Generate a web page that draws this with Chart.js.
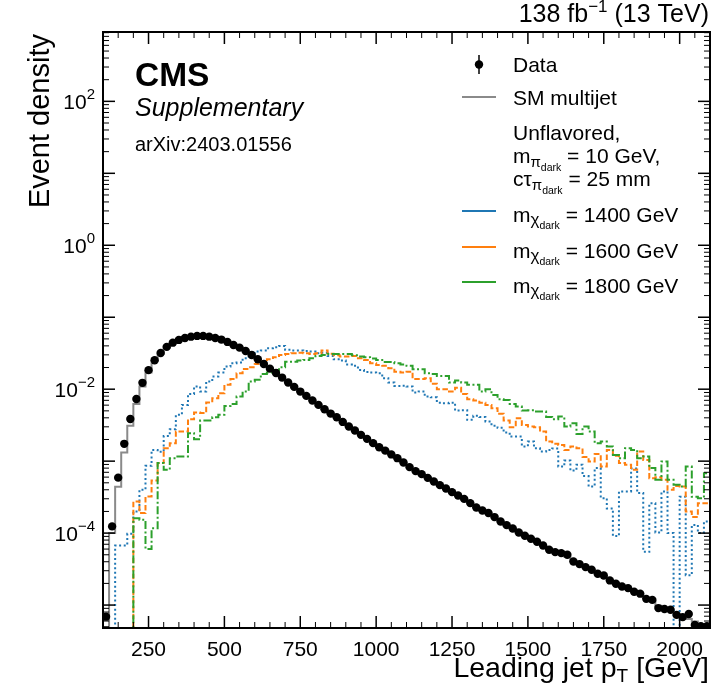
<!DOCTYPE html>
<html>
<head>
<meta charset="utf-8">
<script src="https://cdn.jsdelivr.net/npm/chart.js@4.4.1/dist/chart.umd.min.js"></script>
<style>
  html, body { margin: 0; padding: 0; background: #fff; }
  #wrap { width: 715px; height: 687px; }
</style>
</head>
<body>
<div id="wrap"><canvas id="c" width="715" height="687"></canvas></div>
<script>
// leading jet pT, 20 GeV bins from 100 to 2100 GeV
const binLo = 100, binW = 20, nBins = 100;
const binEdges = Array.from({ length: nBins + 1 }, (_, i) => binLo + binW * i);

// Data (black points, normalised)
const dataVals = [
  6.9e-6, 1.24e-4, 5.9e-4, 1.74e-3, 3.86e-3, 7.3e-3, 0.01225, 0.0184, 0.0253, 0.0319,
  0.0387, 0.0443, 0.0484, 0.0515, 0.0537, 0.055, 0.055, 0.0537, 0.0515, 0.0489,
  0.0454, 0.0412, 0.0378, 0.034, 0.0299, 0.0261, 0.0224, 0.0193, 0.0168, 0.0145,
  0.0124, 0.01076, 0.00926, 0.00807, 0.00695, 0.00605, 0.00527, 0.00458, 0.00408, 0.00351,
  0.00303, 0.00266, 0.00232, 0.00204, 0.00178, 0.00156, 0.0014, 0.00124, 0.0011, 9.57e-4,
  8.26e-4, 7.27e-4, 6.6e-4, 5.86e-4, 5.21e-4, 4.64e-4, 4.16e-4, 3.71e-4, 3.33e-4, 2.99e-4,
  2.61e-4, 2.27e-4, 2.06e-4, 1.9e-4, 1.67e-4, 1.45e-4, 1.29e-4, 1.16e-4, 1.02e-4, 9.17e-5,
  8.33e-5, 7.57e-5, 6.73e-5, 5.86e-5, 5.44e-5, 5.27e-5, 5.0e-5, 4.04e-5, 3.71e-5, 3.37e-5,
  3.09e-5, 2.72e-5, 2.58e-5, 2.2e-5, 1.98e-5, 1.81e-5, 1.72e-5, 1.53e-5, 1.44e-5, 1.22e-5,
  1.18e-5, 9.08e-6, 8.8e-6, 8.6e-6, 7.3e-6, 6.8e-6, 7.5e-6, 5.3e-6, 5.1e-6, 5.1e-6
];

// SM multijet (grey step)
const qcdVals = [
  3.0e-6, 1.0e-4, 4.4e-4, 1.32e-3, 3.1e-3, 6.25e-3, 0.0109, 0.017, 0.0245, 0.0312,
  0.0384, 0.0441, 0.0483, 0.0515, 0.0537, 0.055, 0.055, 0.0537, 0.0515, 0.0489,
  0.0454, 0.0412, 0.0378, 0.034, 0.0299, 0.0261, 0.0224, 0.0193, 0.0168, 0.0145,
  0.0124, 0.01076, 0.00926, 0.00807, 0.00695, 0.00605, 0.00527, 0.00458, 0.00408, 0.00351,
  0.00303, 0.00266, 0.00232, 0.00204, 0.00178, 0.00156, 0.0014, 0.00124, 0.0011, 9.57e-4,
  8.26e-4, 7.27e-4, 6.6e-4, 5.86e-4, 5.21e-4, 4.64e-4, 4.16e-4, 3.71e-4, 3.33e-4, 2.99e-4,
  2.61e-4, 2.27e-4, 2.06e-4, 1.9e-4, 1.67e-4, 1.45e-4, 1.29e-4, 1.16e-4, 1.02e-4, 9.17e-5,
  8.33e-5, 7.57e-5, 6.73e-5, 6.0e-5, 5.6e-5, 5.15e-5, 4.7e-5, 4.1e-5, 3.7e-5, 3.37e-5,
  3.09e-5, 2.76e-5, 2.52e-5, 2.23e-5, 2.0e-5, 1.83e-5, 1.7e-5, 1.54e-5, 1.42e-5, 1.25e-5,
  1.12e-5, 9.8e-6, 9.0e-6, 8.3e-6, 7.6e-6, 7.0e-6, 6.4e-6, 5.9e-6, 5.4e-6, 5.1e-6
];

// signals, unflavored, m_pi = 10 GeV, ctau = 25 mm
const sig1400 = [
  0, 0, 6.7e-5, 6.7e-5, 9.8e-5, 2.0e-4, 4.0e-4, 8.6e-4, 1.43e-3, 1.35e-3,
  2.24e-3, 2.78e-3, 4.4e-3, 6.05e-3, 8.6e-3, 0.0109, 0.0093, 0.0128, 0.015, 0.017,
  0.0206, 0.023, 0.0234, 0.027, 0.0322, 0.0333, 0.0344, 0.037, 0.0383, 0.0399,
  0.0352, 0.0344, 0.0344, 0.034, 0.0333, 0.0316, 0.0322, 0.029, 0.0261, 0.025,
  0.022, 0.0211, 0.0185, 0.0174, 0.017, 0.0166, 0.0142, 0.0124, 0.0111, 0.0112,
  0.0109, 0.009, 0.0093, 0.0079, 0.0077, 0.0065, 0.0064, 0.0065, 0.00505, 0.0051,
  0.00375, 0.00426, 0.0041, 0.00355, 0.0031, 0.0029, 0.0025, 0.0022, 0.0022, 0.0016,
  0.00187, 0.00151, 0.00136, 0.00143, 0.0015, 8.4e-4, 1.02e-3, 7.4e-4, 8.9e-4, 6.2e-4,
  4.45e-4, 8.0e-4, 3.06e-4, 2.2e-4, 9.1e-5, 3.8e-4, 3.8e-4, 7.9e-4, 3.6e-4, 5.5e-5,
  2.6e-4, 1.02e-4, 3.8e-4, 1.0e-4, 0, 3.2e-4, 2.6e-5, 1.3e-4, 1.0e-4, 1.45e-4
];
const sig1600 = [
  0, 0, 0, 0, 0, 2.75e-4, 1.9e-4, 3.23e-4, 5.4e-4, 9.4e-4,
  1.51e-3, 1.78e-3, 2.58e-3, 2.58e-3, 3.83e-3, 4.73e-3, 4.65e-3, 6.52e-3, 7.5e-3, 8.8e-3,
  0.0115, 0.0138, 0.0167, 0.0191, 0.0202, 0.0224, 0.0241, 0.0261, 0.0278, 0.0299,
  0.0309, 0.0316, 0.0322, 0.0316, 0.0309, 0.0316, 0.0344, 0.031, 0.0296, 0.0284,
  0.0284, 0.029, 0.027, 0.0255, 0.023, 0.0217, 0.0211, 0.0196, 0.0175, 0.017,
  0.0175, 0.0138, 0.0138, 0.0142, 0.0119, 0.01, 0.01, 0.0093, 0.0105, 0.0086,
  0.00726, 0.00695, 0.0065, 0.00605, 0.00545, 0.00454, 0.00366, 0.00296, 0.00395, 0.00319,
  0.00303, 0.00296, 0.00258, 0.00187, 0.00175, 0.00168, 0.00143, 0.0016, 0.00151, 0.00114,
  9.9e-4, 1.26e-3, 8.4e-4, 1.43e-3, 1.19e-3, 9.4e-4, 8.9e-4, 7.6e-4, 1.36e-3, 1.04e-3,
  5.8e-4, 5.95e-4, 5.5e-4, 4.0e-4, 4.5e-4, 4.45e-4, 2.0e-4, 1.67e-4, 2.6e-4, 2.6e-4
];
const sig1800 = [
  0, 0, 0, 0, 0, 1.61e-4, 1.53e-4, 6.0e-5, 1.17e-4, 9.4e-4,
  7.57e-4, 1.1e-3, 1.16e-3, 1.16e-3, 2.45e-3, 2.02e-3, 3.66e-3, 3.66e-3, 4.08e-3, 4.4e-3,
  5.86e-3, 6.25e-3, 7.9e-3, 9.3e-3, 0.0128, 0.0135, 0.0163, 0.017, 0.0185, 0.0202,
  0.0241, 0.0241, 0.025, 0.0255, 0.027, 0.029, 0.0299, 0.0309, 0.0309, 0.0309,
  0.0309, 0.0296, 0.0284, 0.0278, 0.0266, 0.0255, 0.0239, 0.0239, 0.023, 0.022,
  0.0211, 0.019, 0.019, 0.0167, 0.0163, 0.0153, 0.0153, 0.0124, 0.0132, 0.0124,
  0.0115, 0.0115, 0.0093, 0.01, 0.00833, 0.00726, 0.0071, 0.00625, 0.00574, 0.00505,
  0.0051, 0.00488, 0.00488, 0.0041, 0.00383, 0.00417, 0.00303, 0.00337, 0.00239, 0.00303,
  0.00258, 0.00178, 0.00187, 0.0016, 0.00122, 0.0011, 0.00151, 0.00143, 0.0011, 0.00116,
  8.0e-4, 5.5e-4, 9.9e-4, 5.5e-4, 4.7e-4, 4.45e-4, 8.4e-4, 3.2e-4, 3.06e-4, 6.8e-4
];

// axes
const xMin = 100, xMax = 2100;
const yMin = 4.8e-6, yMax = 920;
const xTicks = [250, 500, 750, 1000, 1250, 1500, 1750, 2000];
const yTickExps = [-4, -2, 0, 2];

const FONT = '"Liberation Sans", Arial, Helvetica, sans-serif';
const FLOOR = 1e-9; // empty bins drawn far below the axis

// histogram -> step points on bin edges
function stepPoints(vals) {
  const pts = vals.map((v, i) => ({ x: binEdges[i], y: v > 0 ? v : FLOOR }));
  pts.push({ x: binEdges[vals.length], y: pts[pts.length - 1].y });
  return pts;
}
const dataPts = dataVals.map((v, i) => ({ x: binEdges[i] + binW / 2, y: v }));

// draw a row of text runs (for sub/superscripts), returns end x
function runs(ctx, x, y, parts, measureOnly) {
  let cx = x;
  parts.forEach(p => {
    ctx.font = (p.style || '') + ' ' + p.size + 'px ' + FONT;
    if (!measureOnly) ctx.fillText(p.t, cx, y + (p.dy || 0));
    cx += ctx.measureText(p.t).width;
  });
  return cx;
}
function runsRight(ctx, xr, y, parts) {
  ctx.textAlign = 'left';
  const w = runs(ctx, 0, 0, parts, true);
  runs(ctx, xr - w, y, parts);
}

const decor = {
  id: 'decor',
  afterDatasetsDraw(chart) {
    const { ctx, chartArea: a, scales: { x, y } } = chart;
    ctx.save();
    ctx.strokeStyle = '#000';
    ctx.fillStyle = '#000';
    const seg = (x1, y1, x2, y2) => { ctx.beginPath(); ctx.moveTo(x1, y1); ctx.lineTo(x2, y2); ctx.stroke(); };

    // x ticks (inward, top and bottom)
    for (let v = xMin + 50; v < xMax; v += 50) {
      const px = x.getPixelForValue(v);
      const major = v % 250 === 0;
      const len = major ? 12 : 6;
      ctx.lineWidth = major ? 1.5 : 1;
      seg(px, a.bottom, px, a.bottom - len);
      seg(px, a.top, px, a.top + len);
    }
    // y ticks (inward, left and right)
    for (let e = -6; e <= 3; e++) {
      for (let m = 1; m <= 9; m++) {
        const v = m * Math.pow(10, e);
        if (v <= yMin || v >= yMax) continue;
        const py = y.getPixelForValue(v);
        const len = m === 1 ? 12 : 6;
        ctx.lineWidth = m === 1 ? 1.5 : 1;
        seg(a.left, py, a.left + len, py);
        seg(a.right, py, a.right - len, py);
      }
    }
    // frame
    ctx.lineWidth = 2;
    ctx.strokeRect(a.left, a.top, a.right - a.left, a.bottom - a.top);

    // x tick labels
    ctx.font = '21px ' + FONT;
    ctx.textAlign = 'center';
    ctx.textBaseline = 'alphabetic';
    xTicks.forEach(v => ctx.fillText(String(v), x.getPixelForValue(v), a.bottom + 28));

    // y tick labels 10^n
    yTickExps.forEach(e => {
      const py = y.getPixelForValue(Math.pow(10, e));
      const ex = e < 0 ? '\u2212' + (-e) : String(e);
      runsRight(ctx, 95, py + 8, [
        { t: '10', size: 21 },
        { t: ex, size: 15, dy: -10 }
      ]);
    });

    // axis titles
    runsRight(ctx, 709, 677, [
      { t: 'Leading jet p', size: 28.5 },
      { t: 'T', size: 19, dy: 5 },
      { t: ' [GeV]', size: 28.5 }
    ]);
    ctx.save();
    ctx.translate(49, a.top + 2);
    ctx.rotate(-Math.PI / 2);
    ctx.textAlign = 'right';
    ctx.font = '29px ' + FONT;
    ctx.fillText('Event density', 0, 0);
    ctx.restore();

    // lumi label
    runsRight(ctx, 709, 22, [
      { t: '138 fb', size: 25 },
      { t: '\u22121', size: 17, dy: -10 },
      { t: ' (13 TeV)', size: 25 }
    ]);

    // CMS labels
    ctx.textAlign = 'left';
    ctx.font = 'bold 33.5px ' + FONT;
    ctx.fillText('CMS', 135, 86);
    ctx.font = 'italic 25px ' + FONT;
    ctx.fillText('Supplementary', 135, 116);
    ctx.font = '20px ' + FONT;
    ctx.fillText('arXiv:2403.01556', 135, 151);

    // legend
    const tx = 513, lx1 = 462, lx2 = 496;
    ctx.lineWidth = 1.5;
    seg(479, 55, 479, 74);
    ctx.beginPath(); ctx.arc(479, 64.5, 4.2, 0, Math.PI * 2); ctx.fill();
    runs(ctx, tx, 72, [{ t: 'Data', size: 21 }]);

    ctx.strokeStyle = '#8a8a8a'; ctx.lineWidth = 2;
    seg(lx1, 97, lx2, 97);
    runs(ctx, tx, 105, [{ t: 'SM multijet', size: 21 }]);

    runs(ctx, tx, 140, [{ t: 'Unflavored,', size: 21 }]);
    runs(ctx, tx, 163, [
      { t: 'm', size: 21 }, { t: '\u03c0', size: 15, dy: 4 }, { t: 'dark', size: 10.5, dy: 8 },
      { t: ' = 10 GeV,', size: 21 }
    ]);
    runs(ctx, tx, 186, [
      { t: 'c\u03c4', size: 21 }, { t: '\u03c0', size: 15, dy: 4 }, { t: 'dark', size: 10.5, dy: 8 },
      { t: ' = 25 mm', size: 21 }
    ]);

    const sigLeg = [
      { c: '#1f77b4', m: '1400', ly: 211, by: 222 },
      { c: '#ff7f0e', m: '1600', ly: 247, by: 258 },
      { c: '#2ca02c', m: '1800', ly: 282, by: 293 }
    ];
    sigLeg.forEach(s => {
      ctx.strokeStyle = s.c; ctx.lineWidth = 2;
      seg(lx1, s.ly, lx2, s.ly);
      runs(ctx, tx, s.by, [
        { t: 'm', size: 21 }, { t: '\u03c7', size: 17, dy: 3 }, { t: 'dark', size: 10.5, dy: 7 },
        { t: ' = ' + s.m + ' GeV', size: 21 }
      ]);
    });
    ctx.restore();
  }
};

new Chart(document.getElementById('c'), {
  type: 'line',
  data: {
    datasets: [
      { label: 'Data', data: dataPts, showLine: false, pointRadius: 4.2, pointBorderWidth: 0,
        pointBackgroundColor: '#000', order: 0 },
      { label: 'mX 1800', data: stepPoints(sig1800), stepped: 'before', borderColor: '#2ca02c',
        borderWidth: 2, borderDash: [8, 2.5, 2, 2.5], pointRadius: 0, order: 1 },
      { label: 'mX 1600', data: stepPoints(sig1600), stepped: 'before', borderColor: '#ff7f0e',
        borderWidth: 2, borderDash: [5.5, 2.5], pointRadius: 0, order: 2 },
      { label: 'mX 1400', data: stepPoints(sig1400), stepped: 'before', borderColor: '#1f77b4',
        borderWidth: 2, borderDash: [2, 2.6], pointRadius: 0, order: 3 },
      { label: 'SM multijet', data: stepPoints(qcdVals), stepped: 'before', borderColor: '#8a8a8a',
        borderWidth: 2, pointRadius: 0, order: 4 }
    ]
  },
  options: {
    responsive: false,
    animation: false,
    devicePixelRatio: 1,
    layout: { padding: { left: 103, right: 5, top: 32, bottom: 59 } },
    plugins: { legend: { display: false }, tooltip: { enabled: false } },
    elements: { line: { tension: 0, fill: false } },
    scales: {
      x: { type: 'linear', min: xMin, max: xMax, display: false },
      y: { type: 'logarithmic', min: yMin, max: yMax, display: false }
    }
  },
  plugins: [decor]
});
</script>
</body>
</html>
